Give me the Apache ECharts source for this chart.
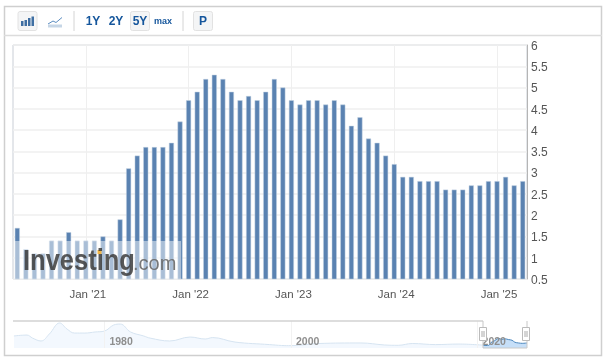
<!DOCTYPE html>
<html>
<head>
<meta charset="utf-8">
<style>html,body{margin:0;padding:0;background:#fff}#c{width:605px;height:361px}</style>
<script src="https://cdn.jsdelivr.net/npm/echarts@6/dist/echarts.min.js"></script>
</head>
<body>
<div id="c"></div>
<script>
const months = ["May '20","Jun '20","Jul '20","Aug '20","Sep '20","Oct '20","Nov '20","Dec '20",
"Jan '21","Feb '21","Mar '21","Apr '21","May '21","Jun '21","Jul '21","Aug '21","Sep '21","Oct '21","Nov '21","Dec '21",
"Jan '22","Feb '22","Mar '22","Apr '22","May '22","Jun '22","Jul '22","Aug '22","Sep '22","Oct '22","Nov '22","Dec '22",
"Jan '23","Feb '23","Mar '23","Apr '23","May '23","Jun '23","Jul '23","Aug '23","Sep '23","Oct '23","Nov '23","Dec '23",
"Jan '24","Feb '24","Mar '24","Apr '24","May '24","Jun '24","Jul '24","Aug '24","Sep '24","Oct '24","Nov '24","Dec '24",
"Jan '25","Feb '25","Mar '25","Apr '25"];
const values = [1.7,1.2,1.1,1.1,1.4,1.4,1.6,1.4,
1.4,1.4,1.5,1.4,1.9,3.1,3.4,3.6,3.6,3.6,3.7,4.2,
4.7,4.9,5.2,5.3,5.2,4.9,4.7,4.8,4.7,4.9,5.2,5.0,
4.7,4.6,4.7,4.7,4.6,4.7,4.6,4.1,4.3,3.8,3.7,3.4,
3.2,2.9,2.9,2.8,2.8,2.8,2.6,2.6,2.6,2.7,2.7,2.8,
2.8,2.9,2.7,2.8];
const navYears = [1970.3,1971.7,1972.3,1973.2,1974.1,1975.2,1976,1976.8,1977.9,1979,1980,1981,1981.7,1982.8,1984.2,1984.9,1987,1989.2,1990.8,1991.6,1994,1997.7,1999,2000,2003,2007.5,2010,2011.5,2013,2015.5,2018,2020.6];
const navValues = [6.7,7.2,5.5,3.9,7.8,13.9,10.5,8.3,8.3,8.9,9.4,12.8,13.3,8.9,6.7,5.5,3.9,6.1,5,5.8,3.3,1.9,1.4,1.3,2.5,2.8,1.7,1.5,2.5,1.9,2.2,1.6];
const navTicks = [1980,2000,2020];
const selYears = [2020.6,2020.9,2021.2,2021.45,2021.7,2022,2022.3,2022.6,2022.95,2023.3,2023.7,2024,2024.4,2024.8,2025.3];
const selValues = [1.4,1.4,1.5,3.1,3.6,4.7,5.3,4.8,5.1,4.7,4.3,3.2,2.8,2.6,2.8];

const blue = '#5a82b1', txt = '#15569c', frame = '#cfcfcf', btn = '#f4f5f6';
const rect = (x,y,w,h,fill,stroke,extra) => Object.assign({type:'rect',shape:{x,y,width:w,height:h},style:{fill:fill||'none',stroke:stroke||null,lineWidth:1},silent:true,z:100},extra||{});
const line = (x1,y1,x2,y2,c,w) => ({type:'line',shape:{x1,y1,x2,y2},style:{stroke:c,lineWidth:w||1},silent:true,z:100});
const text = (x,y,t,font,fill,align,extra) => Object.assign({type:'text',x,y,style:{text:t,font,fill,align:align||'center',verticalAlign:'middle'},silent:true,z:101},extra||{});
const bold = 'bold 12px "Liberation Sans", Arial, sans-serif';

const graphics = [
  rect(4.5,6.5,597,349,null,frame,{style:{fill:'none',stroke:frame,lineWidth:1.5}}),
  line(4,35.5,602,35.5,'#dcdcdc',1.5),
  rect(18,11.5,19,19,btn,'#e2e2e2',{shape:{x:18,y:11.5,width:19,height:19,r:2}}),
  rect(21,21,2.5,5,'#3f6fa3'), rect(24.5,20,2.5,6,'#3f6fa3'), rect(28,18,2.5,8,'#3f6fa3'), rect(31.5,16.5,2.5,9.5,'#3f6fa3'),
  {type:'polyline',shape:{points:[[48,24],[53,21],[56,22.5],[62,17.5]]},style:{stroke:'#5b8cc0',fill:null,lineWidth:1},silent:true,z:100},
  rect(48,24.5,14,3,'#c6d6e6'),
  line(74,11,74,31,'#d4d4d4',1),
  text(93,21.5,'1Y',bold,txt), text(116,21.5,'2Y',bold,txt),
  rect(130.5,11.5,19,19,btn,'#e2e2e2',{shape:{x:130.5,y:11.5,width:19,height:19,r:2}}),
  text(140,21.5,'5Y',bold,txt),
  text(163,21.5,'max','bold 9px "Liberation Sans", Arial, sans-serif',txt),
  line(183,11,183,31,'#d4d4d4',1),
  rect(193.5,11.5,19,19,btn,'#e2e2e2',{shape:{x:193.5,y:11.5,width:19,height:19,r:2}}),
  text(203,21.5,'P',bold,txt),
  rect(14,241,167,38,'rgba(255,255,255,0.48)'),
  text(23,262,'Investing','bold 25.5px "Liberation Sans", Arial, sans-serif','rgba(60,60,60,0.85)','left',{scaleY:1.12}),
  text(133,264,'.com','20px "Liberation Sans", Arial, sans-serif','rgba(105,105,105,0.9)','left'),
  rect(97.5,250,4,4,'#f2b544'),
  line(13,321,483,321,'#d2d2d2',1.5),
  line(483,348,527,348,'#c8c8c8',1),
  line(527,321,527,348,'#c8c8c8',1),
  line(483,321,483,348,'#c8c8c8',1),
  rect(479.5,327.5,7,13,'#fff','#bbb'), line(482,331,482,337,'#aaa'), line(484,331,484,337,'#aaa'),
  rect(522.5,327.5,7,13,'#fff','#bbb'), line(525,331,525,337,'#aaa'), line(527,331,527,337,'#aaa')
];

const chart = echarts.init(document.getElementById('c'), null, {renderer:'canvas'});
const isJan = (i, v) => String(v).startsWith('Jan');
chart.setOption({
  animation:false,
  grid:[
    {left:13,top:45,width:514,height:234,show:true,borderColor:'#c9ced6',borderWidth:1,backgroundColor:'#fff'},
    {left:13,top:321,width:514,height:27}
  ],
  xAxis:[
    {type:'category',gridIndex:0,data:months,boundaryGap:true,
     axisLine:{show:false},axisTick:{show:false},
     axisLabel:{interval:isJan,color:'#555',fontSize:11.5,fontFamily:'"Liberation Sans", Arial, sans-serif',margin:10,padding:[0,0,0,4],hideOverlap:false},
     splitLine:{show:true,interval:isJan,alignWithLabel:true,lineStyle:{color:'#efefef',width:1}}},
    {type:'value',gridIndex:1,min:1970.2,max:2025.3,z:10,
     axisLine:{show:false},
     axisTick:{show:false,customValues:navTicks},
     axisLabel:{customValues:navTicks,inside:true,margin:0,align:'left',padding:[0,0,0,5],color:'#8f8f8f',fontSize:10.5,fontWeight:'bold',fontFamily:'"Liberation Sans", Arial, sans-serif',showMinLabel:true,showMaxLabel:true,formatter:v=>String(v)},
     splitLine:{show:true,lineStyle:{color:'#f2f2f2'}}}
  ],
  yAxis:[
    {type:'value',gridIndex:0,position:'right',min:0.5,max:6,interval:0.5,
     axisLine:{show:true,lineStyle:{color:'#b5b5b5',width:1}},axisTick:{show:false},
     axisLabel:{margin:4,align:'left',formatter:v=>'{v|'+v+'}',
       rich:{v:{color:'#555',fontSize:12,padding:[3,0,0,0],fontFamily:'"Liberation Sans", Arial, sans-serif'}}},
     splitLine:{show:true,lineStyle:{color:'#efefef',width:1.5}}},
    {type:'value',gridIndex:1,min:0,max:15,show:false,splitLine:{show:false}}
  ],
  series:[
    {type:'bar',xAxisIndex:0,yAxisIndex:0,data:values,barWidth:5,
     itemStyle:{color:blue,borderColor:'#c3d2e3',borderWidth:0.5},silent:true},
    {type:'line',xAxisIndex:1,yAxisIndex:1,data:navYears.map((y,i)=>[y,navValues[i]]),smooth:0.4,symbol:'none',
     lineStyle:{color:'#d6e4f1',width:1},areaStyle:{color:'#f3f8fe',opacity:1},silent:true,z:1},
    {type:'line',xAxisIndex:1,yAxisIndex:1,data:selYears.map((y,i)=>[y,selValues[i]]),smooth:0.4,symbol:'none',
     lineStyle:{color:'#4a86bd',width:1},areaStyle:{color:'#c6dff8',opacity:1},silent:true,z:2}
  ],
  graphic:{elements:graphics}
});
</script>
</body>
</html>
